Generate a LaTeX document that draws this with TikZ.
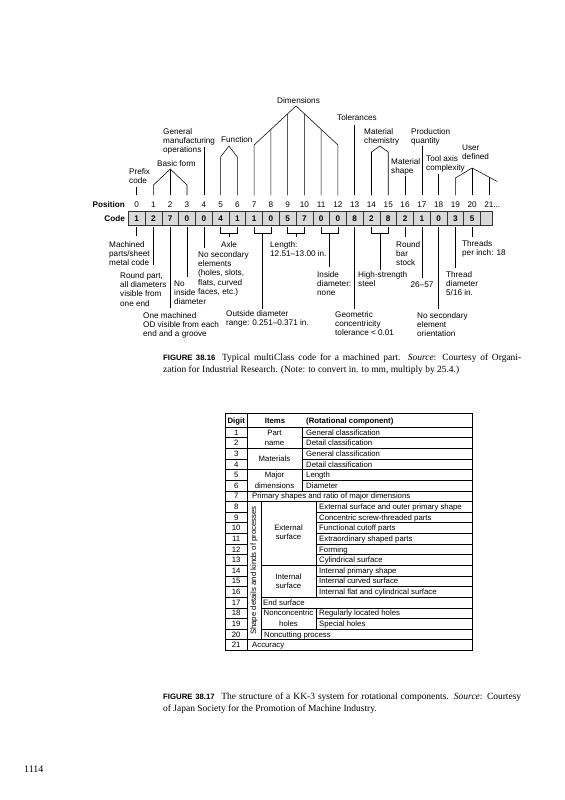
\documentclass[tikz,border=0pt]{standalone}
\usepackage{fontspec}
\setmainfont{Liberation Serif}
\setsansfont{Liberation Sans}
\usetikzlibrary{calc,positioning}

\newcommand{\stack}[1]{\begin{tabular}[t]{@{}l@{}}#1\end{tabular}}
\newcommand{\figlabel}[1]{{\sffamily\bfseries\fontsize{7.8}{9}\selectfont #1}}

\tikzset{
  lbl/.style={font=\sffamily\fontsize{8.2}{9.4}\selectfont, inner sep=0pt, anchor=base west},
  bold/.style={font=\sffamily\bfseries\fontsize{8.2}{9.4}\selectfont},
  posnum/.style={lbl, anchor=base},
  cell/.style={draw=black!80, fill=black!15, line width=0.5bp, minimum width=16.77bp,
    minimum height=14bp, inner sep=0pt, font=\sffamily\bfseries\fontsize{8.2}{9.4}\selectfont},
  lead/.style={line width=0.55bp},
  up/.style={lead, shorten <=6bp},
  tent/.style={lead, shorten <=6bp, shorten >=6bp},
  dn/.style={lead, shorten <=1.5bp},
  brk/.style={lead, shorten <=1.5bp, shorten >=1.5bp},
  tline/.style={line width=0.4bp},
  ttxt/.style={font=\sffamily\fontsize{7.8}{9}\selectfont, inner sep=0pt, anchor=base},
  tleft/.style={ttxt, anchor=base west},
  thead/.style={ttxt, font=\sffamily\bfseries\fontsize{7.8}{9}\selectfont},
  capt/.style={font=\fontsize{9.5}{11.8}\selectfont, text width=358bp, align=justify,
    inner sep=0pt, anchor=north west},
}

\begin{document}
\begin{tikzpicture}[x=1bp, y=-1bp]
  \fill[white] (0,0) rectangle (565,800);
  \useasboundingbox (0,0) rectangle (565,800);

  % position row and code row
  \node[lbl, bold, anchor=base east] (poslbl) at (125,207.3) {Position};
  \node[lbl, bold, anchor=base east] (codelbl) at (125,221.5) {Code};
  \foreach \i in {0,...,21}
    \node[posnum] (p\i) at (136.7+16.77*\i, 207.3) {\i\ifnum\i=21\rlap{...}\fi};
  \foreach \d [count=\i from 0] in {1,2,7,0,0,4,1,1,0,5,7,0,0,8,2,8,2,1,0,3,5}
    \node[cell] (c\i) at (136.7+16.77*\i, 218.5) {\d};
  \node[cell, minimum width=11.5bp] (c21) at (486.4,218.5) {};

  % labels above
  \node[lbl] (prefix) at (129,174) {\stack{Prefix\\code}};
  \node[lbl] (basic) at (157,166) {Basic form};
  \node[lbl] (genman) at (163,134) {\stack{General\\manufacturing\\operations}};
  \node[lbl] (func) at (221,142) {Function};
  \node[lbl] (dims) at (277,103) {Dimensions};
  \node[lbl] (tol) at (337,120) {Tolerances};
  \node[lbl] (matchem) at (364,134) {\stack{Material\\chemistry}};
  \node[lbl] (matshape) at (391,164) {\stack{Material\\shape}};
  \node[lbl] (prod) at (411,134) {\stack{Production\\quantity}};
  \node[lbl] (toolax) at (426,161) {\stack{Tool axis\\complexity}};
  \node[lbl] (user) at (462,150) {\stack{User\\defined}};

  % leaders above
  \draw[up] (p0.north) -- (p0 |- 0,187);
  \coordinate (bfa) at (p2 |- 0,169);
  \draw[tent] (p1.north) -- (p1 |- 0,185) -- (bfa) -- (p3 |- 0,185) -- (p3.north);
  \draw[up] (p2.north) -- (bfa);
  \draw[up] (p4.north) -- (p4 |- 0,147);
  \coordinate (fna) at ($(p5 |- 0,146)!0.5!(p6 |- 0,146)$);
  \draw[tent] (p5.north) -- (p5 |- 0,157) -- (fna) -- (p6 |- 0,157) -- (p6.north);
  % dimensions
  \coordinate (dma) at ($(p9 |- 0,106)!0.5!(p10 |- 0,106)$);
  \coordinate (dml) at (p7 |- 0,145);
  \coordinate (dmr) at (p12 |- 0,145);
  \draw[tent] (p7.north) -- (dml) -- (dma) -- (dmr) -- (p12.north);
  \draw[up] (p8.north) -- ($(dml)!0.4!(dma)$);
  \draw[up] (p9.north) -- ($(dml)!0.8!(dma)$);
  \draw[up] (p10.north) -- ($(dmr)!0.8!(dma)$);
  \draw[up] (p11.north) -- ($(dmr)!0.4!(dma)$);
  \draw[up] (p13.north) -- (p13 |- 0,125);
  \coordinate (mca) at ($(p14 |- 0,146)!0.5!(p15 |- 0,146)$);
  \draw[tent] (p14.north) -- (p14 |- 0,152) -- (mca) -- (p15 |- 0,152) -- (p15.north);
  \draw[up] (p16.north) -- (p16 |- 0,176);
  \draw[up] (p17.north) -- (p17 |- 0,146);
  \draw[up] (p18.north) -- (p18 |- 0,174);
  % user defined
  \coordinate (uda) at (p20 |- 0,168);
  \coordinate (udr) at (p21 |- 0,177);
  \draw[up] (p19.north) -- (p19 |- 0,178) -- (uda) -- ($(uda)!1.5!(udr)$);
  \draw[up] (p20.north) -- (uda);
  \draw[up] (p21.north) -- (udr);

  % labels below
  \node[lbl] (mach) at (109,247) {\stack{Machined\\parts/sheet\\metal code}};
  \node[lbl] (round) at (120,278) {\stack{Round part,\\all diameters\\visible from\\one end}};
  \node[lbl] (noin) at (174,286) {\stack{No\\inside\\diameter}};
  \node[lbl] (onemach) at (143,318) {\stack{One machined\\OD visible from each\\end and a groove}};
  \node[lbl] (nosec) at (198,257) {\stack{No secondary\\elements\\(holes, slots,\\flats, curved\\faces, etc.)}};
  \node[lbl, anchor=base] (axle) at (229,247) {Axle};
  \node[lbl] (length) at (270,247) {\stack{Length:\\12.51--13.00 in.}};
  \node[lbl] (outdia) at (226,316) {\stack{Outside diameter\\range: 0.251--0.371 in.}};
  \node[lbl] (india) at (317,277) {\stack{Inside\\diameter:\\none}};
  \node[lbl] (geom) at (335,317) {\stack{Geometric\\concentricity\\tolerance < 0.01}};
  \node[lbl] (steel) at (358,277) {\stack{High-strength\\steel}};
  \node[lbl] (bar) at (396,247) {\stack{Round\\bar\\stock}};
  \node[lbl, anchor=base] (hard) at (422,287) {26--57};
  \node[lbl] (orient) at (417,318) {\stack{No secondary\\element\\orientation}};
  \node[lbl] (thrd) at (446,277) {\stack{Thread\\diameter\\5/16 in.}};
  \node[lbl] (tpi) at (462,246) {\stack{Threads\\per inch: 18}};

  % leaders below
  \draw[dn] (c0.south) -- (c0.south |- 0,236);
  \draw[dn] (c1.south) -- (c1.south |- 0,265);
  \draw[dn] (c2.south) -- (c2.south |- 0,308);
  \draw[dn] (c3.south) -- (c3.south |- 0,277);
  \draw[dn] (c4.south) -- (c4.south |- 0,248);
  \draw[brk] (c5.south) -- (c5.south |- 0,233) -- (c6.south |- 0,233) -- (c6.south);
  \coordinate (b56) at ($(c5.south |- 0,233)!0.5!(c6.south |- 0,233)$);
  \draw[lead] (b56) -- (b56 |- 0,237);
  \draw[brk] (c7.south) -- (c7.south |- 0,233) -- (c8.south |- 0,233) -- (c8.south);
  \coordinate (b78) at ($(c7.south |- 0,233)!0.5!(c8.south |- 0,233)$);
  \draw[lead] (b78) -- (b78 |- 0,309);
  \draw[brk] (c9.south) -- (c9.south |- 0,233) -- (c10.south |- 0,233) -- (c10.south);
  \coordinate (b910) at ($(c9.south |- 0,233)!0.5!(c10.south |- 0,233)$);
  \draw[lead] (b910) -- (b910 |- 0,237);
  \draw[brk] (c11.south) -- (c11.south |- 0,233) -- (c12.south |- 0,233) -- (c12.south);
  \coordinate (b1112) at ($(c11.south |- 0,233)!0.5!(c12.south |- 0,233)$);
  \draw[lead] (b1112) -- (b1112 |- 0,267);
  \draw[dn] (c13.south) -- (c13.south |- 0,309);
  \draw[brk] (c14.south) -- (c14.south |- 0,233) -- (c15.south |- 0,233) -- (c15.south);
  \coordinate (b1415) at ($(c14.south |- 0,233)!0.5!(c15.south |- 0,233)$);
  \draw[lead] (b1415) -- (b1415 |- 0,270);
  \draw[dn] (c16.south) -- (c16.south |- 0,237);
  \draw[dn] (c17.south) -- (c17.south |- 0,278);
  \draw[dn] (c18.south) -- (c18.south |- 0,309);
  \draw[dn] (c19.south) -- (c19.south |- 0,268);
  \draw[dn] (c20.south) -- (c20.south |- 0,237);

  % caption 38.16
  \node[capt] (cap16) at (163,353.5) {\figlabel{FIGURE 38.16}\hspace{0.7em}Typical multiClass code for a machined part. \textit{Source}: Courtesy of Organi-\linebreak zation for Industrial Research. (Note: to convert in. to mm, multiply by 25.4.)};

  % KK-3 table
  \draw[tline] (225,413.3) rectangle (471.7,650.2);
  \draw[tline] (225,427) -- (471.7,427);
  \draw[tline] (247.3,413.3) -- (247.3,650.2);
  \foreach \k in {1,...,20}
    \draw[tline] (225,427+10.63*\k) -- (247.3,427+10.63*\k);
  \foreach \k in {1,3,5}
    \draw[tline] (301.7,427+10.63*\k) -- (471.7,427+10.63*\k);
  \foreach \k in {2,4,6,7,20}
    \draw[tline] (247.3,427+10.63*\k) -- (471.7,427+10.63*\k);
  \draw[tline] (301.7,427) -- (301.7,427+10.63*6);
  \draw[tline] (261,427+10.63*7) -- (261,427+10.63*20);
  \draw[tline] (316,427+10.63*7) -- (316,427+10.63*16);
  \draw[tline] (316,427+10.63*17) -- (316,427+10.63*19);
  \foreach \k in {8,9,10,11,12,14,15,18}
    \draw[tline] (316,427+10.63*\k) -- (471.7,427+10.63*\k);
  \foreach \k in {13,16,17,19}
    \draw[tline] (261,427+10.63*\k) -- (471.7,427+10.63*\k);

  \node[thead] (hdig) at (236.2,423.3) {Digit};
  \node[thead] (hitem) at (275,423.3) {Items};
  \node[thead, anchor=base west] (hrot) at (306,423.3) {(Rotational component)};
  \foreach \r in {1,...,21}
    \node[ttxt] (dg\r) at (236.2,424.5+10.63*\r) {\r};
  \node[ttxt] (part) at (274.5,435.1) {Part};
  \node[ttxt] (pname) at (274.5,445.7) {name};
  \node[ttxt] (matl) at (274.5,461.7) {Materials};
  \node[ttxt] (major) at (274.5,477.7) {Major};
  \node[ttxt] (mdims) at (274.5,488.3) {dimensions};
  \node[tleft] (r1) at (306,435.1) {General classification};
  \node[tleft] (r2) at (306,445.7) {Detail classification};
  \node[tleft] (r3) at (306,456.4) {General classification};
  \node[tleft] (r4) at (306,467.0) {Detail classification};
  \node[tleft] (r5) at (306,477.6) {Length};
  \node[tleft] (r6) at (306,488.3) {Diameter};
  \node[tleft] (r7) at (252,498.9) {Primary shapes and ratio of major dimensions};
  \node[tleft] (r8) at (319,509.5) {External surface and outer primary shape};
  \node[tleft] (r9) at (319,520.1) {Concentric screw-threaded parts};
  \node[tleft] (r10) at (319,530.8) {Functional cutoff parts};
  \node[tleft] (r11) at (319,541.4) {Extraordinary shaped parts};
  \node[tleft] (r12) at (319,552.0) {Forming};
  \node[tleft] (r13) at (319,562.7) {Cylindrical surface};
  \node[tleft] (r14) at (319,573.3) {Internal primary shape};
  \node[tleft] (r15) at (319,583.9) {Internal curved surface};
  \node[tleft] (r16) at (319,594.6) {Internal flat and cylindrical surface};
  \node[tleft] (r17) at (263,605.2) {End surface};
  \node[tleft] (r18) at (319,615.8) {Regularly located holes};
  \node[tleft] (r19) at (319,626.4) {Special holes};
  \node[tleft] (r20) at (264,637.1) {Noncutting process};
  \node[tleft] (r21) at (252,647.7) {Accuracy};
  \node[ttxt] (ext) at (288.5,530.4) {External};
  \node[ttxt] (extb) at (288.5,539.4) {surface};
  \node[ttxt] (int) at (288.5,579.4) {Internal};
  \node[ttxt] (intb) at (288.5,588.7) {surface};
  \node[ttxt] (ncon) at (288.5,615.8) {Nonconcentric};
  \node[ttxt] (ncholes) at (288.5,626.4) {holes};
  \node[ttxt, anchor=center, rotate=90] (shape) at (254.2,570.5) {Shape details and kinds of processes};

  % caption 38.17
  \node[capt] (cap17) at (163,693) {\figlabel{FIGURE 38.17}\hspace{0.7em}The structure of a KK-3 system for rotational components. \textit{Source}: Courtesy\linebreak of Japan Society for the Promotion of Machine Industry.};

  % folio
  \node[font=\fontsize{10}{12}\selectfont, inner sep=0pt, anchor=base west] (folio) at (24,772) {1114};
\end{tikzpicture}
\end{document}
